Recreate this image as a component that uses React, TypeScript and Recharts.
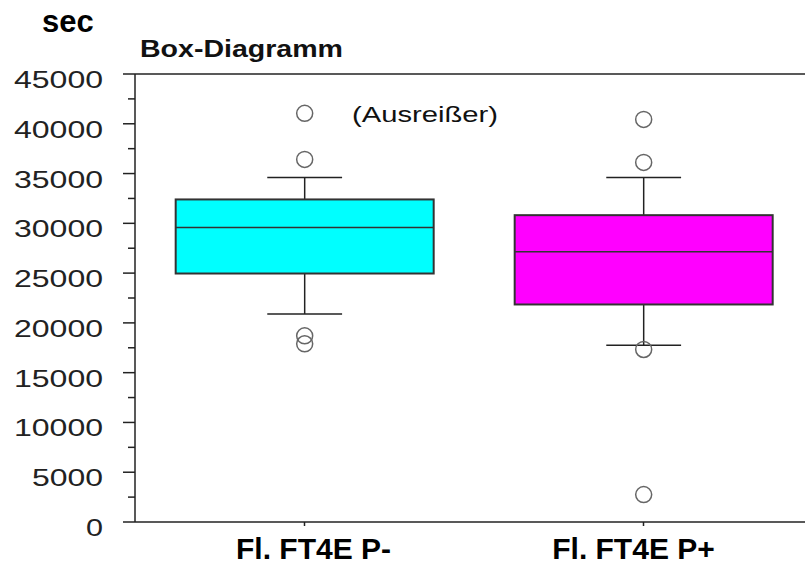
import {ComposedChart, Bar, XAxis, YAxis, ReferenceLine} from "recharts";

// Runtime per flight group, seconds
const categories = ["Fl. FT4E P-", "Fl. FT4E P+"];
const boxColors = ["#00ffff", "#ff00ff"];
const whiskerLow = [20900, 17760];
const q1 = [24960, 21850];
const median = [29590, 27140];
const q3 = [32400, 30820];
const whiskerHigh = [34610, 34610];
const outliers = [
  [41050, 36420, 18700, 17900],
  [40440, 36120, 17330, 2750],
];

const yTicks = [
  0, 2500, 5000, 7500, 10000, 12500, 15000, 17500, 20000, 22500, 25000,
  27500, 30000, 32500, 35000, 37500, 40000, 42500, 45000,
];

const FONT = '"Liberation Sans", Arial, sans-serif';
const INK = "#222";

const rows = categories.map((name, i) => {
  const all = [whiskerLow[i], whiskerHigh[i], ...outliers[i]];
  return {
    name,
    color: boxColors[i],
    low: whiskerLow[i],
    q1: q1[i],
    median: median[i],
    q3: q3[i],
    high: whiskerHigh[i],
    outliers: outliers[i],
    range: [Math.min(...all), Math.max(...all)],
  };
});

// The bar spans the full data range; everything inside is placed
// along that span, so the y scale does the work.
function BoxShape(props: any) {
  const {x, y, width, height, payload} = props;
  const top = Math.min(y, y + height);
  const bottom = Math.max(y, y + height);
  const [lo, hi] = payload.range;
  const py = (v: number) => bottom - ((v - lo) / (hi - lo)) * (bottom - top);
  const cx = x + width / 2;
  const cap = width * 0.145;

  return (
    <g>
      <line x1={cx} x2={cx} y1={py(payload.high)} y2={py(payload.q3)} stroke={INK} strokeWidth={1.5} />
      <line x1={cx} x2={cx} y1={py(payload.q1)} y2={py(payload.low)} stroke={INK} strokeWidth={1.5} />
      <line x1={cx - cap} x2={cx + cap} y1={py(payload.high)} y2={py(payload.high)} stroke={INK} strokeWidth={1.5} />
      <line x1={cx - cap} x2={cx + cap} y1={py(payload.low)} y2={py(payload.low)} stroke={INK} strokeWidth={1.5} />
      <rect
        x={x}
        y={py(payload.q3)}
        width={width}
        height={py(payload.q1) - py(payload.q3)}
        fill={payload.color}
        stroke="#333"
        strokeWidth={2}
      />
      <line x1={x} x2={x + width} y1={py(payload.median)} y2={py(payload.median)} stroke="#333" strokeWidth={1.5} />
      {payload.outliers.map((v: number, k: number) => (
        <circle key={k} cx={cx} cy={py(v)} r={8} fill="none" stroke="#666" strokeWidth={1.5} />
      ))}
    </g>
  );
}

function YTick(props: any) {
  const {x, y, payload} = props;
  const major = payload.value % 5000 === 0;
  if (!major) {
    return <line x1={x - 7} x2={x} y1={y} y2={y} stroke={INK} strokeWidth={1.5} />;
  }
  const label = String(payload.value);
  const w = label.length * 18 - 1;
  return (
    <g>
      <line x1={x - 12} x2={x} y1={y} y2={y} stroke={INK} strokeWidth={1.5} />
      <text
        x={x - 32 - w}
        y={y + 14}
        fontFamily={FONT}
        fontSize={23}
        fill={INK}
        textLength={w}
        lengthAdjust="spacingAndGlyphs"
      >
        {label}
      </text>
    </g>
  );
}

const labelShift = [9, -10];

function XTick(props: any) {
  const {x, y, payload, index} = props;
  return (
    <g>
      <line x1={x} x2={x} y1={y} y2={y + 4} stroke={INK} strokeWidth={1.5} />
      <text
        x={x + (labelShift[index] ?? 0)}
        y={y + 37}
        textAnchor="middle"
        fontFamily={FONT}
        fontWeight="bold"
        fontSize={30}
        fill="#000"
      >
        {payload.value}
      </text>
    </g>
  );
}

export default function App() {
  return (
    <div
      style={{
        position: "absolute",
        left: 0,
        top: 0,
        width: 805,
        height: 567,
        overflow: "hidden",
        background: "#fff",
      }}
    >
      <ComposedChart
        width={830}
        height={567}
        data={rows}
        margin={{top: 74, right: 17, left: 0, bottom: 0}}
        barCategoryGap="12%"
      >
        <XAxis
          dataKey="name"
          type="category"
          height={45}
          tickSize={0}
          tickMargin={0}
          tickLine={false}
          axisLine={{stroke: INK, strokeWidth: 1.5}}
          tick={<XTick />}
          interval={0}
        />
        <YAxis
          type="number"
          domain={[0, 45000]}
          ticks={yTicks}
          interval={0}
          width={135}
          tickSize={0}
          tickMargin={0}
          tickLine={false}
          axisLine={{stroke: INK, strokeWidth: 1.5}}
          tick={<YTick />}
        />
        <ReferenceLine y={45000} stroke={INK} strokeWidth={1.5} />
        <Bar dataKey="range" shape={<BoxShape />} isAnimationActive={false} />
      </ComposedChart>
      <svg
        width={805}
        height={567}
        style={{position: "absolute", left: 0, top: 0, pointerEvents: "none"}}
      >
        <text x={42} y={32} fontFamily={FONT} fontWeight="bold" fontSize={31} fill="#000">
          sec
        </text>
        <text
          x={140}
          y={57}
          fontFamily={FONT}
          fontWeight="bold"
          fontSize={23}
          fill="#111"
          textLength={203}
          lengthAdjust="spacingAndGlyphs"
        >
          Box-Diagramm
        </text>
        <text
          x={352}
          y={121.5}
          fontFamily={FONT}
          fontSize={22}
          fill="#111"
          textLength={146}
          lengthAdjust="spacingAndGlyphs"
        >
          (Ausreißer)
        </text>
      </svg>
    </div>
  );
}
